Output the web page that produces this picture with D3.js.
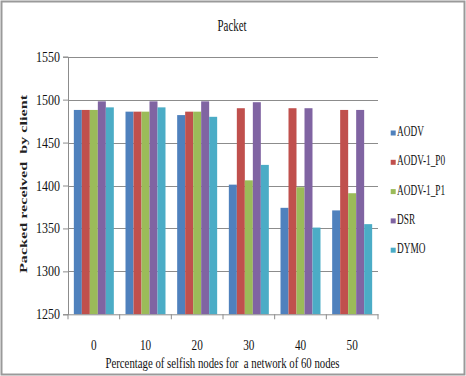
<!DOCTYPE html>
<html><head><meta charset="utf-8">
<script src="https://cdn.jsdelivr.net/npm/d3@7/dist/d3.min.js"></script>
<style>body{margin:0;background:#fff}svg{display:block}text{font-family:"Liberation Serif","Times New Roman",serif}</style>
</head><body>
<script>
const categories = ["0","10","20","30","40","50"];
const seriesNames = ["AODV","AODV-1_P0","AODV-1_P1","DSR","DYMO"];
const AODV   = [1488,1486,1482,1401,1374,1371];
const AODV_P0= [1488,1486,1486,1490,1490,1488];
const AODV_P1= [1488,1486,1486,1406,1398,1391];
const DSR    = [1498,1498,1498,1497,1490,1488];
const DYMO   = [1491,1491,1480,1424,1351,1355];
const yTicks = [1250,1300,1350,1400,1450,1500,1550];
const colors = ["#4F81BD","#C0504D","#9BBB59","#8064A2","#4BACC6"];
const seriesVals = [AODV,AODV_P0,AODV_P1,DSR,DYMO];

const W=466,H=376;
const svg=d3.select("body").append("svg").attr("width",W).attr("height",H);
svg.append("rect").attr("x",1.5).attr("y",1.5).attr("width",W-3).attr("height",H-3)
  .attr("fill","#fff").attr("stroke","#9a9a9a").attr("stroke-width",2);

// text drawn at (px,py) horizontally squeezed by f
function label(parent,px,py,str,size,f,anchor,weight){
  const gg=parent.append("g").attr("transform",`translate(${px},${py}) scale(${f},1)`);
  return gg.append("text").attr("x",0).attr("y",0).attr("text-anchor",anchor||"start")
    .attr("font-size",size).attr("font-weight",weight||"normal").attr("fill","#111")
    .style("white-space","pre").text(str);
}

const L=68,R=378,T=56.7,B=314.3;
const x=d3.scaleBand().domain(categories).range([L,R]).paddingInner(0.226).paddingOuter(0.113);
const xs=d3.scaleBand().domain(seriesNames).range([0,x.bandwidth()]);
const y=d3.scaleLinear().domain([1250,1550]).range([B,T]);

// gridlines
svg.append("g").selectAll("line").data(yTicks.slice(1)).join("line")
  .attr("x1",L).attr("x2",R).attr("y1",d=>Math.round(y(d))+0.5).attr("y2",d=>Math.round(y(d))+0.5)
  .attr("stroke","#8c8c8c").attr("stroke-width",1);

// bars
const g=svg.append("g");
seriesNames.forEach((s,i)=>{
  g.append("g").selectAll("rect").data(seriesVals[i]).join("rect")
   .attr("x",(d,j)=>x(categories[j])+xs(s))
   .attr("width",xs.bandwidth())
   .attr("y",d=>y(d)).attr("height",d=>B-y(d))
   .attr("fill",colors[i]);
});

// y axis (line + ticks via d3 axis, labels squeezed)
const ya=svg.append("g").attr("transform",`translate(${L},0)`)
  .call(d3.axisLeft(y).tickValues(yTicks).tickSize(5).tickFormat(""));
ya.select(".domain").attr("stroke","#8c8c8c");
ya.selectAll(".tick line").attr("stroke","#8c8c8c");
const yl=svg.append("g");
yTicks.forEach(v=>label(yl,L-8,y(v)+5,d3.format("d")(v),15,0.8,"end"));

// x axis
const xa=svg.append("g").attr("transform",`translate(0,${B})`)
  .call(d3.axisBottom(x).tickSize(0).tickFormat(""));
xa.select(".domain").attr("stroke","#8c8c8c");
const bounds=[L].concat(categories.map(c=>x(c)+x.bandwidth()+x.step()*x.paddingInner()/2));
bounds[bounds.length-1]=R;
svg.append("g").selectAll("line").data(bounds).join("line")
  .attr("x1",d=>d).attr("x2",d=>d).attr("y1",B).attr("y2",B+5).attr("stroke","#8c8c8c");
const xl=svg.append("g");
categories.forEach(c=>label(xl,x(c)+x.bandwidth()/2,350,c,15,0.75,"middle"));

// titles
label(svg,232,31,"Packet",17,0.64,"middle");
label(svg,222.5,368,"Percentage of selfish nodes for  a network of 60 nodes",15,0.72,"middle");
svg.append("text").attr("transform","translate(27,184) scale(0.72,1) rotate(-90)").attr("text-anchor","middle")
  .attr("font-size",15).attr("font-weight","bold").attr("fill","#222").style("white-space","pre")
  .attr("textLength",178).attr("lengthAdjust","spacingAndGlyphs")
  .text("Packed received  by client");

// legend
const lg=svg.append("g");
seriesNames.forEach((s,i)=>{
  const base=136+i*29.3;
  lg.append("rect").attr("x",390.7).attr("y",base-5.5).attr("width",5).attr("height",5).attr("fill",colors[i]);
  label(lg,397,base,s,15,0.62,"start");
});
</script>
</body></html>
